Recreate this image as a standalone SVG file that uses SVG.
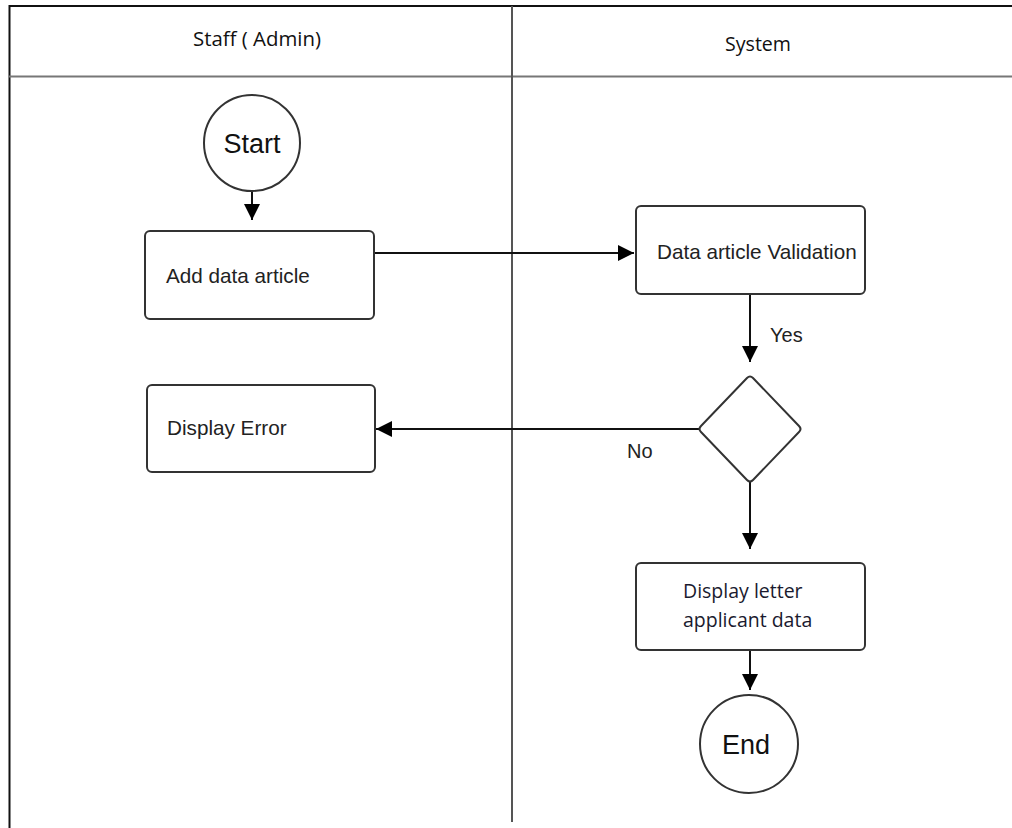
<svg xmlns="http://www.w3.org/2000/svg" width="1012" height="828" viewBox="0 0 1012 828">
<style>
.box{fill:#fff;stroke:#333;stroke-width:2}
.lbl{font-family:"Liberation Sans",Arial,sans-serif;font-size:20.7px;fill:#222}
.yn{font-family:"Liberation Sans",Arial,sans-serif;font-size:20px;fill:#222}
.big{font-family:"Liberation Sans",Arial,sans-serif;font-size:27px;fill:#111;text-anchor:middle}
.hdr{font-family:"Open Sans","Liberation Sans",sans-serif;font-size:20px;fill:#111;text-anchor:middle}
.cal{font-family:"Open Sans","Liberation Sans",sans-serif;font-size:19.5px;fill:#1a1a2e}
.con{fill:none;stroke:#111;stroke-width:2}
</style>
<defs>
<marker id="ahb" viewBox="0 0 16 16" refX="16" refY="8" markerWidth="16" markerHeight="16" markerUnits="userSpaceOnUse" orient="auto">
<path d="M0,0 L16,8 L0,16 Z" fill="#000"/>
</marker>
</defs>
<rect width="1012" height="828" fill="#fff"/>
<g id="lanes">
<line x1="9" y1="6" x2="1012" y2="6" stroke="#111" stroke-width="2"/>
<line x1="9.5" y1="5" x2="9.5" y2="828" stroke="#111" stroke-width="2"/>
<line x1="9" y1="76.5" x2="1012" y2="76.5" stroke="#777" stroke-width="2"/>
<line x1="512" y1="6" x2="512" y2="822" stroke="#555" stroke-width="2"/>
<text class="hdr" x="257" y="46" textLength="128" lengthAdjust="spacingAndGlyphs">Staff ( Admin)</text>
<text class="hdr" x="758" y="51" textLength="66" lengthAdjust="spacingAndGlyphs">System</text>
</g>
<g id="connectors">
<line class="con" x1="252" y1="191" x2="252" y2="220" marker-end="url(#ahb)"/>
<line class="con" x1="374" y1="253" x2="634" y2="253" marker-end="url(#ahb)"/>
<line class="con" x1="750" y1="294" x2="750" y2="362" marker-end="url(#ahb)"/>
<line class="con" x1="699" y1="429" x2="376" y2="429" marker-end="url(#ahb)"/>
<line class="con" x1="750" y1="482" x2="750" y2="549" marker-end="url(#ahb)"/>
<line class="con" x1="750" y1="650" x2="750" y2="690" marker-end="url(#ahb)"/>
<text class="yn" x="770" y="342">Yes</text>
<text class="yn" x="627" y="458">No</text>
</g>
<g id="start">
<circle class="box" cx="252" cy="143" r="48"/>
<text class="big" x="252" y="153">Start</text>
</g>
<g id="add">
<rect class="box" x="145" y="231" width="229" height="88" rx="5"/>
<text class="lbl" x="166" y="283">Add data article</text>
</g>
<g id="validation">
<rect class="box" x="636" y="206" width="229" height="88" rx="5"/>
<text class="lbl" x="657" y="259">Data article Validation</text>
</g>
<g id="decision">
<path class="box" d="M747,378 Q750,375 753,378 L799,426 Q802,429 799,432 L753,480 Q750,483 747,480 L701,432 Q698,429 701,426 Z"/>
</g>
<g id="error">
<rect class="box" x="147" y="385" width="228" height="87" rx="5"/>
<text class="lbl" x="167" y="435">Display Error</text>
</g>
<g id="display">
<rect class="box" x="636" y="563" width="229" height="87" rx="5"/>
<text class="cal" x="683" y="598">Display letter</text>
<text class="cal" x="683" y="627">applicant data</text>
</g>
<g id="end">
<circle class="box" cx="749" cy="744" r="49"/>
<text class="big" x="746" y="754">End</text>
</g>
</svg>
